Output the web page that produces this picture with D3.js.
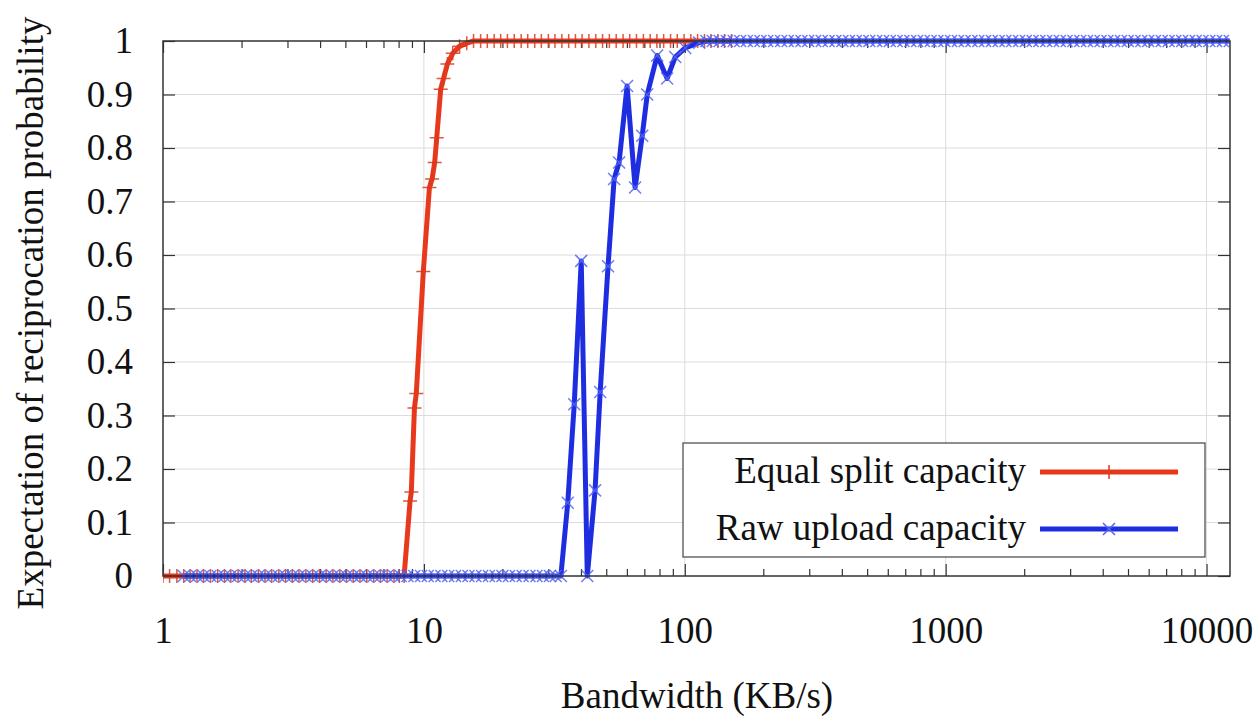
<!DOCTYPE html>
<html>
<head>
<meta charset="utf-8">
<script src="https://cdn.jsdelivr.net/npm/d3@7"></script>
<style>
body { margin: 0; background: #fff; }
text { font-family: "Liberation Serif", "Times New Roman", serif; fill: #111; }
</style>
</head>
<body>
<div id="chart"></div>
<script>
// chart data
const bandwidthTicks = [1, 10, 100, 1000, 10000]
const probTicks = [0, 0.1, 0.2, 0.3, 0.4, 0.5, 0.6, 0.7, 0.8, 0.9, 1]
const probLabels = ["0", "0.1", "0.2", "0.3", "0.4", "0.5", "0.6", "0.7", "0.8", "0.9", "1"]
const seriesNames = ["Equal split capacity", "Raw upload capacity"]

// [bandwidth KB/s, probability]
const equalSplit = [
    [1.00,0],[1.06,0],[1.13,0],[1.20,0],[1.27,0],[1.35,0],[1.43,0],[1.52,0],[1.62,0],[1.72,0],
    [1.82,0],[1.94,0],[2.06,0],[2.18,0],[2.32,0],[2.46,0],[2.61,0],[2.78,0],[2.95,0],[3.13,0],
    [3.32,0],[3.53,0],[3.75,0],[3.98,0],[4.22,0],[4.48,0],[4.76,0],[5.05,0],[5.36,0],[5.69,0],
    [6.04,0],[6.42,0],[6.81,0],[7.23,0],[7.68,0],[8.05,0],[8.4,0],
    [8.85,0.14],[8.95,0.157],[9.2,0.314],[9.35,0.341],[9.95,0.569],[10.5,0.726],[10.75,0.742],
    [11.0,0.773],[11.2,0.819],[11.6,0.91],[11.9,0.93],[12.3,0.957],[12.9,0.977],[13.7,0.99],
    [14.6,0.996],[15.5,1],[16.5,1],[17.5,1],[18.6,1],[19.7,1],[20.9,1],[22.2,1],[23.6,1],[25.0,1],
    [26.6,1],[28.2,1],[30.0,1],[31.8,1],[33.8,1],[35.9,1],[38.1,1],[40.4,1],[42.9,1],[45.6,1],
    [48.4,1],[51.4,1],[54.6,1],[58.0,1],[61.5,1],[65.3,1],[69.4,1],[73.7,1],[78.2,1],[83.0,1],
    [88.2,1],[93.6,1],[99.4,1],[105.5,1],[112,1],[119,1],[126,1],[134,1],[142,1],[151,1]
]

const rawUpload = [
    [1.20,0],[1.27,0],[1.35,0],[1.43,0],[1.52,0],[1.62,0],[1.72,0],[1.82,0],[1.94,0],[2.06,0],
    [2.18,0],[2.32,0],[2.46,0],[2.61,0],[2.78,0],[2.95,0],[3.13,0],[3.32,0],[3.53,0],[3.75,0],
    [3.98,0],[4.22,0],[4.48,0],[4.76,0],[5.05,0],[5.36,0],[5.69,0],[6.04,0],[6.42,0],[6.81,0],
    [7.23,0],[7.68,0],[8.15,0],[8.65,0],[9.19,0],[9.75,0],[10.35,0],[10.99,0],[11.67,0],[12.39,0],
    [13.16,0],[13.97,0],[14.83,0],[15.75,0],[16.72,0],[17.75,0],[18.85,0],[20.0,0],[21.2,0],[22.5,0],
    [23.9,0],[25.4,0],[27.0,0],[28.6,0],[30.4,0],[32.0,0],[33.5,0],
    [35.6,0.137],[37.7,0.321],[40.1,0.589],[42.3,0],[45.3,0.16],[47.4,0.344],[50.8,0.579],
    [53.6,0.742],[56.0,0.773],[60.1,0.916],[64.5,0.726],[68.7,0.823],[71.8,0.9],[78.4,0.973],
    [85.6,0.93],[91.9,0.97],[100.4,0.987],[113.6,0.997],
    [121,1],[128,1],[136,1],[145,1],[154,1],[163,1],[173,1],[184,1],[195,1],[207,1],
    [220,1],[234,1],[248,1],[264,1],[280,1],[297,1],[316,1],[335,1],[356,1],[378,1],
    [402,1],[426,1],[453,1],[481,1],[510,1],[542,1],[576,1],[611,1],[649,1],[689,1],
    [732,1],[777,1],[825,1],[876,1],[930,1],[988,1],[1049,1],[1114,1],[1183,1],[1256,1],
    [1334,1],[1416,1],[1504,1],[1597,1],[1695,1],[1800,1],[1911,1],[2030,1],[2155,1],[2288,1],
    [2430,1],[2580,1],[2739,1],[2909,1],[3088,1],[3279,1],[3482,1],[3697,1],[3926,1],[4168,1],
    [4426,1],[4700,1],[4990,1],[5299,1],[5626,1],[5974,1],[6343,1],[6735,1],[7152,1],[7594,1],
    [8063,1],[8561,1],[9091,1],[9652,1],[10249,1],[10883,1],[11555,1],[12270,1]
]

const colors = ["#e8391c", "#1f2de0"]
const markerColors = ["#d83a1e", "#5566f2"]

let W = 1260, H = 717
let plot = { left: 163, right: 1230, top: 41, bottom: 576 }
let fontSize = 37

let svg = d3.select("#chart")
            .append("svg")
                .attr("width", W)
                .attr("height", H)

let x = d3.scaleLog()
            .domain([1, 12300])
            .range([plot.left, plot.right])
let y = d3.scaleLinear()
            .domain([0, 1])
            .range([plot.bottom, plot.top])

// grid
svg.append("g")
    .selectAll("line")
    .data(probTicks.filter(d => d > 0 && d < 1))
    .enter().append("line")
        .attr("x1", plot.left).attr("x2", plot.right)
        .attr("y1", d => y(d)).attr("y2", d => y(d))
        .attr("stroke", "#dcdcdc").attr("stroke-width", 1)
svg.append("g")
    .selectAll("line")
    .data(bandwidthTicks.filter(d => d > 1))
    .enter().append("line")
        .attr("x1", d => x(d)).attr("x2", d => x(d))
        .attr("y1", plot.top).attr("y2", plot.bottom)
        .attr("stroke", "#dcdcdc").attr("stroke-width", 1)

// axes
let minorTicks = x.ticks().filter(d => !bandwidthTicks.includes(d))

let xAxis = svg.append("g")
    .attr("transform", `translate(0,${plot.bottom})`)
    .call(d3.axisBottom(x).tickValues(bandwidthTicks).tickFormat(d3.format("d")).tickSize(-12).tickPadding(41))
let xMinor = svg.append("g")
    .attr("transform", `translate(0,${plot.bottom})`)
    .call(d3.axisBottom(x).tickValues(minorTicks).tickFormat("").tickSize(-7))
let xTop = svg.append("g")
    .attr("transform", `translate(0,${plot.top})`)
    .call(d3.axisTop(x).tickValues(bandwidthTicks).tickFormat("").tickSize(-12))
let xTopMinor = svg.append("g")
    .attr("transform", `translate(0,${plot.top})`)
    .call(d3.axisTop(x).tickValues(minorTicks).tickFormat("").tickSize(-7))
let yAxis = svg.append("g")
    .attr("transform", `translate(${plot.left},0)`)
    .call(d3.axisLeft(y).tickValues(probTicks).tickFormat((d, i) => probLabels[i]).tickSize(-12).tickPadding(30))
let yRight = svg.append("g")
    .attr("transform", `translate(${plot.right},0)`)
    .call(d3.axisRight(y).tickValues(probTicks).tickFormat("").tickSize(-12))

for (let g of [xAxis, xMinor, xTop, xTopMinor, yAxis, yRight]) {
    g.select(".domain").remove()
    g.selectAll(".tick line").attr("stroke", "#333").attr("stroke-width", 1.2)
    g.selectAll(".tick text").attr("font-size", fontSize).attr("fill", "#111")
        .style("font-family", '"Liberation Serif", serif')
}

// series
let line = d3.line()
                .x(d => x(d[0]))
                .y(d => y(d[1]))

function plusPath(cx, cy, s) {
    return `M${cx - s},${cy}h${2 * s}M${cx},${cy - s}v${2 * s}`
}
function crossPath(cx, cy, s) {
    return `M${cx - s},${cy - s}L${cx + s},${cy + s}M${cx - s},${cy + s}L${cx + s},${cy - s}`
}
let markerFns = [plusPath, crossPath]

let clip = svg.append("clipPath").attr("id", "plotclip")
clip.append("rect")
    .attr("x", plot.left).attr("y", plot.top - 10)
    .attr("width", plot.right - plot.left).attr("height", plot.bottom - plot.top + 20)

let series = [equalSplit, rawUpload]
series.forEach((data, i) => {
    let g = svg.append("g").attr("clip-path", "url(#plotclip)")
    g.append("path")
        .datum(data)
        .attr("d", line)
        .attr("fill", "none")
        .attr("stroke", colors[i])
        .attr("stroke-width", 5)
        .attr("stroke-linejoin", "round")
    g.append("g")
        .selectAll("path")
        .data(data)
        .enter().append("path")
            .attr("d", d => markerFns[i](x(d[0]), y(d[1]), i == 0 ? 7 : 6))
            .attr("fill", "none")
            .attr("stroke", markerColors[i])
            .attr("stroke-width", 1.5)
            .attr("opacity", 0.85)
})

// frame
svg.append("rect")
    .attr("x", plot.left).attr("y", plot.top)
    .attr("width", plot.right - plot.left).attr("height", plot.bottom - plot.top)
    .attr("fill", "none").attr("stroke", "#333").attr("stroke-width", 1.5)

// legend
let legend = svg.append("g")
legend.append("rect")
    .attr("x", 683).attr("y", 443).attr("width", 522).attr("height", 114)
    .attr("fill", "#fff").attr("stroke", "#444").attr("stroke-width", 1.2)
seriesNames.forEach((name, i) => {
    let ly = 472 + i * 57
    legend.append("text")
        .attr("x", 1026).attr("y", ly + 11)
        .attr("text-anchor", "end")
        .attr("font-size", fontSize)
        .text(name)
    legend.append("line")
        .attr("x1", 1040).attr("x2", 1178)
        .attr("y1", ly).attr("y2", ly)
        .attr("stroke", colors[i]).attr("stroke-width", 5)
    legend.append("path")
        .attr("d", markerFns[i](1109, ly, i == 0 ? 7 : 6))
        .attr("fill", "none")
        .attr("stroke", markerColors[i])
        .attr("stroke-width", 1.5)
})

// axis titles
svg.append("text")
    .attr("x", 697).attr("y", 708)
    .attr("text-anchor", "middle")
    .attr("font-size", fontSize)
    .text("Bandwidth (KB/s)")
svg.append("text")
    .attr("transform", "translate(43,313) rotate(-90)")
    .attr("text-anchor", "middle")
    .attr("font-size", fontSize)
    .text("Expectation of reciprocation probability")
</script>
</body>
</html>
